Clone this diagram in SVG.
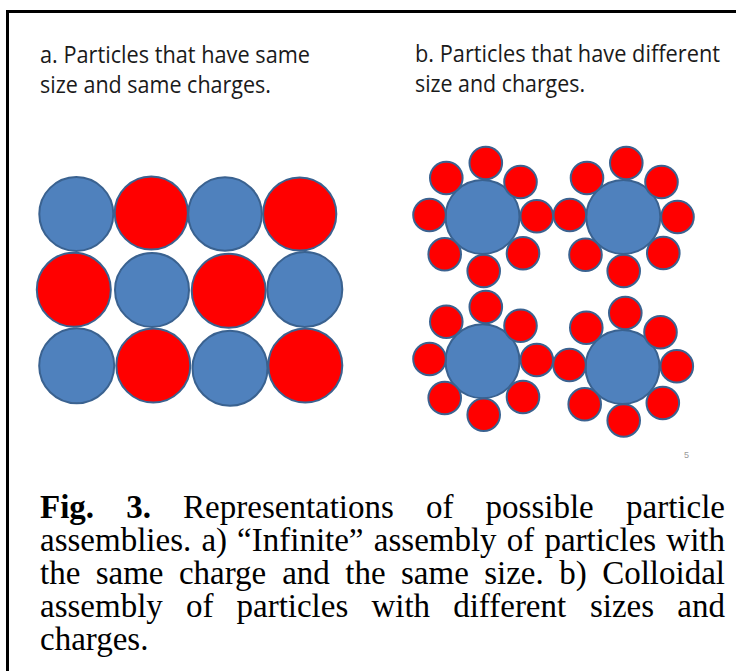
<svg xmlns="http://www.w3.org/2000/svg" width="736" height="671" viewBox="0 0 736 671">
<style>
.bl{fill:#4F81BD;stroke:#3A6290;stroke-width:2}
.rd{fill:#FF0000;stroke:#3A6290;stroke-width:2}
.lbl{font-family:"Open Sans","Noto Sans","Liberation Sans",sans-serif;font-size:23px;fill:#1a1a1a}
.cap{font-family:"Liberation Serif","Times New Roman",serif;font-size:33px;fill:#000}
.capb{font-weight:bold}
</style>
<rect x="0" y="0" width="736" height="671" fill="#fff"/>
<rect id="frame" x="7.5" y="11.5" width="740" height="690" fill="none" stroke="#000" stroke-width="3"/>
<g id="label-a">
<text class="lbl" x="40" y="63" textLength="270" lengthAdjust="spacingAndGlyphs">a. Particles that have same</text>
<text class="lbl" x="40" y="93" textLength="231" lengthAdjust="spacingAndGlyphs">size and same charges.</text>
</g>
<g id="label-b">
<text class="lbl" x="415" y="61.5" textLength="305" lengthAdjust="spacingAndGlyphs">b. Particles that have different</text>
<text class="lbl" x="415" y="91.5" textLength="170" lengthAdjust="spacingAndGlyphs">size and charges.</text>
</g>
<g id="grid-a">
<circle class="bl" cx="76.3" cy="214" r="37"/>
<circle class="rd" cx="151.3" cy="213" r="36.6"/>
<circle class="bl" cx="225" cy="214" r="36.8"/>
<circle class="rd" cx="299.7" cy="214" r="36.6"/>
<circle class="rd" cx="73.8" cy="289.7" r="37"/>
<circle class="bl" cx="152" cy="290" r="37"/>
<circle class="rd" cx="228.7" cy="290.8" r="37"/>
<circle class="bl" cx="304.8" cy="289.5" r="37.5"/>
<circle class="bl" cx="76.7" cy="365.7" r="37.5"/>
<circle class="rd" cx="153.3" cy="365.5" r="37"/>
<circle class="bl" cx="230" cy="368.3" r="37.5"/>
<circle class="rd" cx="305.3" cy="365.5" r="37"/>
</g>
<g id="cluster-1">
<circle class="bl" cx="482.5" cy="217" r="37"/>
<circle class="rd" cx="485.8" cy="163" r="16.3"/>
<circle class="rd" cx="446.3" cy="178" r="16.3"/>
<circle class="rd" cx="520.5" cy="182" r="16.3"/>
<circle class="rd" cx="429.5" cy="215" r="16.3"/>
<circle class="rd" cx="536.8" cy="216.3" r="16.3"/>
<circle class="rd" cx="444.7" cy="254.3" r="16.3"/>
<circle class="rd" cx="523" cy="253.3" r="16.3"/>
<circle class="rd" cx="483.7" cy="271" r="16.3"/>
</g>
<g id="cluster-2">
<circle class="bl" cx="623.3" cy="217" r="37"/>
<circle class="rd" cx="626.3" cy="163" r="16.3"/>
<circle class="rd" cx="587" cy="178" r="16.3"/>
<circle class="rd" cx="661.5" cy="182" r="16.3"/>
<circle class="rd" cx="569.8" cy="215" r="16.3"/>
<circle class="rd" cx="677.5" cy="217" r="16.3"/>
<circle class="rd" cx="585.5" cy="254.7" r="16.3"/>
<circle class="rd" cx="663.3" cy="253" r="16.3"/>
<circle class="rd" cx="623.7" cy="271" r="16.3"/>
</g>
<g id="cluster-3">
<circle class="bl" cx="482.5" cy="361.2" r="37"/>
<circle class="rd" cx="485.8" cy="307" r="16.3"/>
<circle class="rd" cx="446.3" cy="321.7" r="16.3"/>
<circle class="rd" cx="520.5" cy="325.8" r="16.3"/>
<circle class="rd" cx="429.5" cy="359" r="16.3"/>
<circle class="rd" cx="536.8" cy="360" r="16.3"/>
<circle class="rd" cx="444.7" cy="398" r="16.3"/>
<circle class="rd" cx="523" cy="397" r="16.3"/>
<circle class="rd" cx="483.7" cy="414.7" r="16.3"/>
</g>
<g id="cluster-4">
<circle class="bl" cx="622.5" cy="367" r="37"/>
<circle class="rd" cx="625.3" cy="313" r="16.3"/>
<circle class="rd" cx="586.3" cy="327.8" r="16.3"/>
<circle class="rd" cx="660.5" cy="332.2" r="16.3"/>
<circle class="rd" cx="569.5" cy="365" r="16.3"/>
<circle class="rd" cx="676.8" cy="366.3" r="16.3"/>
<circle class="rd" cx="584.7" cy="404.2" r="16.3"/>
<circle class="rd" cx="662.8" cy="403" r="16.3"/>
<circle class="rd" cx="623.7" cy="420.5" r="16.3"/>
</g>
<g id="connectors"/>
<g id="page-number">
<text x="684" y="458" font-family="Liberation Sans, sans-serif" font-size="9" fill="#9a9a9a">5</text>
</g>
<g id="caption">
<text class="cap" y="518"><tspan class="capb" x="40">Fig.</tspan><tspan class="capb" x="126.2">3.</tspan><tspan x="183.1">Representations</tspan><tspan x="426">of</tspan><tspan x="485.6">possible</tspan></text>
<text class="cap" x="725" y="518" text-anchor="end">particle</text>
<text class="cap" y="551"><tspan x="40">assemblies.</tspan><tspan x="201.4">a)</tspan><tspan x="237.1">“Infinite”</tspan><tspan x="373.8">assembly</tspan><tspan x="506.7">of</tspan><tspan x="544.4">particles</tspan></text>
<text class="cap" x="725" y="551" text-anchor="end">with</text>
<text class="cap" y="584"><tspan x="40">the</tspan><tspan x="95.7">same</tspan><tspan x="178.9">charge</tspan><tspan x="282.2">and</tspan><tspan x="345.3">the</tspan><tspan x="401">same</tspan><tspan x="484.2">size.</tspan><tspan x="559.2">b)</tspan></text>
<text class="cap" x="725" y="584" text-anchor="end">Colloidal</text>
<text class="cap" y="617"><tspan x="40">assembly</tspan><tspan x="185.9">of</tspan><tspan x="236.5">particles</tspan><tspan x="371.4">with</tspan><tspan x="453.2">different</tspan><tspan x="589.9">sizes</tspan></text>
<text class="cap" x="725" y="617" text-anchor="end">and</text>
<text class="cap" x="40" y="650">charges.</text>
</g>
</svg>
